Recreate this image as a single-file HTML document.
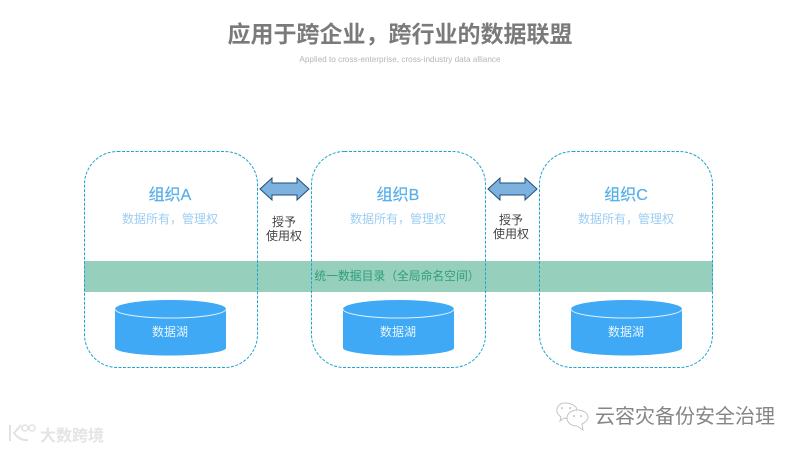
<!DOCTYPE html>
<html><head><meta charset="utf-8"><style>
html,body{margin:0;padding:0;background:#fff}
svg{display:block}
text{font-family:"Liberation Sans","Noto Sans CJK SC",sans-serif;text-anchor:middle}
</style></head><body>
<svg width="800" height="450" viewBox="0 0 800 450" xmlns="http://www.w3.org/2000/svg">
<defs>
<g id="cyl">
<path d="M0 9V48C0 52 25 55.500 55.500 55.500S111 52 111 48V9Z" fill="#3fa9f5"/>
<ellipse cx="55.500" cy="9" rx="55.500" ry="9" fill="#3fa9f5"/>
<path d="M0 9A55.500 9 0 0 0 111 9" fill="none" stroke="#e4f3fe" stroke-width="1"/>
</g>
<path id="arr" d="M0 0L12 -11V-6H37V-11L49 0L37 11V6H12V11Z" fill="#7db1de" stroke="#1f4e79" stroke-width="1"/>
</defs>
<rect width="800" height="450" fill="#fff"/>
<text x="400" y="42" font-size="23" font-weight="700" fill="#7a7a7a">应用于跨企业，跨行业的数据联盟</text>
<text x="400" y="62" font-size="8.200" fill="#b5b5b5">Applied to cross-enterprise, cross-industry data alliance</text>

<rect x="84" y="261" width="629" height="31" fill="#96d0bc"/>

<g fill="none" stroke="#22a5d0" stroke-width="1" stroke-dasharray="3 1.500">
<rect x="84.500" y="151.500" width="173" height="216" rx="33" ry="33"/>
<rect x="311.500" y="151.500" width="174" height="216" rx="33" ry="33"/>
<rect x="539.500" y="151.500" width="173" height="216" rx="33" ry="33"/>
</g>

<g font-size="16" fill="#5bb0ea" stroke="#5bb0ea" stroke-width="0.250">
<text x="170" y="200">组织A</text>
<text x="398" y="200">组织B</text>
<text x="626" y="200">组织C</text>
</g>
<g font-size="12" fill="#9dcdf2">
<text x="170" y="223">数据所有，管理权</text>
<text x="398" y="223">数据所有，管理权</text>
<text x="626" y="223">数据所有，管理权</text>
</g>

<use href="#arr" x="260" y="189"/>
<use href="#arr" x="488" y="189"/>

<g font-size="12" fill="#444">
<text x="284" y="226">授予</text>
<text x="284" y="240">使用权</text>
<text x="511" y="224">授予</text>
<text x="511" y="238">使用权</text>
</g>

<text x="397" y="280" font-size="11.800" fill="#2f9c7c">统一数据目录（全局命名空间）</text>

<use href="#cyl" x="115" y="300"/>
<use href="#cyl" x="343" y="300"/>
<use href="#cyl" x="571" y="300"/>
<g font-size="12" fill="#e8f5ff">
<text x="170" y="336">数据湖</text>
<text x="398" y="336">数据湖</text>
<text x="626" y="336">数据湖</text>
</g>

<!-- watermark left -->
<g fill="none" stroke="#e2e2e2" stroke-width="2">
<path d="M10 425V441"/>
<path d="M21 425L14 433Q20 441 28 440"/>
<circle cx="25" cy="428" r="3" stroke-width="1.500"/>
<circle cx="32" cy="428" r="3" stroke-width="1.500"/>
</g>
<text x="72" y="441" font-size="16" font-weight="700" fill="#e4e4e4">大数跨境</text>

<!-- watermark right -->
<g fill="#fff" stroke="#c4c4c4" stroke-width="1">
<path d="M565 403C559 403 556 408 557 412C558 415 560 416 561 417L560 421L564 418C570 420 577 416 577 410C577 406 571 403 565 403Z"/>
<path d="M577 410C571 410 567 414 567 418C567 423 572 426 577 426L583 430L582 424C586 422 588 420 588 417C588 413 583 410 577 410Z"/>
</g>
<g fill="#9a9a9a"><circle cx="562" cy="408" r="0.800"/><circle cx="570" cy="408" r="0.800"/><circle cx="574" cy="416" r="0.800"/><circle cx="581" cy="416" r="0.800"/></g>
<text x="685" y="423" font-size="20" fill="#858585">云容灾备份安全治理</text>
</svg>
</body></html>
